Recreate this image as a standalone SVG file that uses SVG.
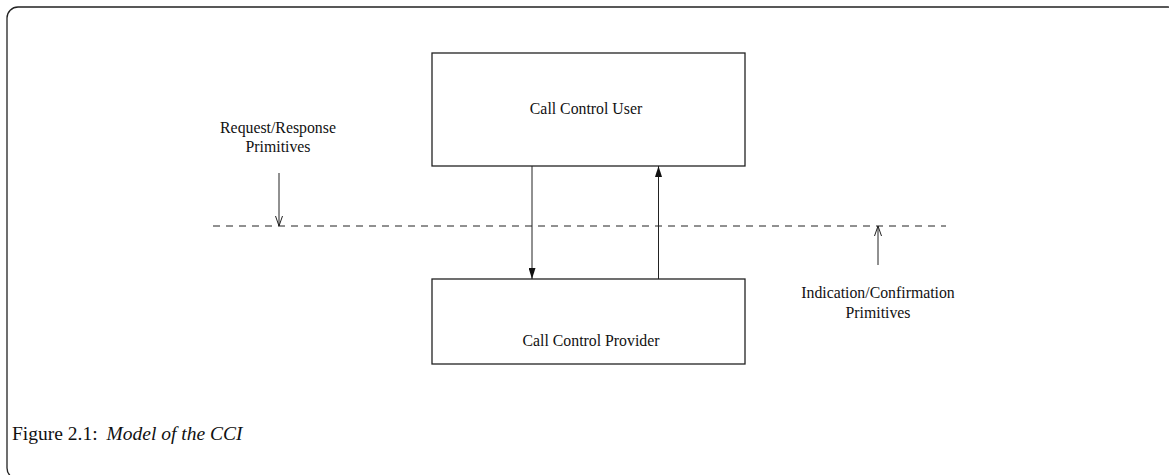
<svg xmlns="http://www.w3.org/2000/svg" width="1169" height="475" viewBox="0 0 1169 475">
<style>
.box{fill:#fff;stroke:#222;stroke-width:1.3}
.lbl{font-family:"Liberation Serif","Times New Roman",serif;font-size:15.8px;fill:#111;text-anchor:middle}
.conn{stroke:#222;stroke-width:1;fill:none}
.cap{font-family:"Liberation Serif","DejaVu Serif",serif;font-size:19.5px;fill:#111}
</style>
<defs>
<marker id="solid" viewBox="0 0 11 7" refX="11" refY="3.5" markerWidth="11" markerHeight="7" markerUnits="userSpaceOnUse" orient="auto">
<path d="M0,0 L11,3.5 L0,7 Z" fill="#111"/>
</marker>
<marker id="open" viewBox="0 0 10 8" refX="10" refY="4" markerWidth="10" markerHeight="8" markerUnits="userSpaceOnUse" orient="auto">
<path d="M0,0.5 L10,4 L0,7.5" fill="none" stroke="#222" stroke-width="1"/>
</marker>
</defs>
<rect x="7" y="7" width="1172" height="472" rx="11" fill="none" stroke="#222" stroke-width="1.3"/>
<g id="user">
<rect class="box" x="432" y="53" width="313" height="113"/>
<text class="lbl" x="586" y="114">Call Control User</text>
</g>
<g id="provider">
<rect class="box" x="432" y="279" width="313" height="85"/>
<text class="lbl" x="591" y="346">Call Control Provider</text>
</g>
<g id="boundary">
<line x1="213" y1="226" x2="946" y2="226" stroke="#222" stroke-width="1" stroke-dasharray="7 6"/>
</g>
<g id="reqLabel">
<text class="lbl" x="278" y="133">Request/Response</text>
<text class="lbl" x="278" y="152">Primitives</text>
</g>
<g id="indLabel">
<text class="lbl" x="878" y="298">Indication/Confirmation</text>
<text class="lbl" x="878" y="318">Primitives</text>
</g>
<g id="connectors">
<line class="conn" x1="532" y1="166" x2="532" y2="279" marker-end="url(#solid)"/>
<line class="conn" x1="658.5" y1="279" x2="658.5" y2="166" marker-end="url(#solid)"/>
<line class="conn" x1="279" y1="173" x2="279" y2="226" marker-end="url(#open)"/>
<line class="conn" x1="878" y1="265" x2="878" y2="226" marker-end="url(#open)"/>
</g>
<g id="caption">
<text class="cap" x="12" y="440">Figure 2.1:<tspan dx="9" font-style="italic">Model of the CCI</tspan></text>
</g>
</svg>
